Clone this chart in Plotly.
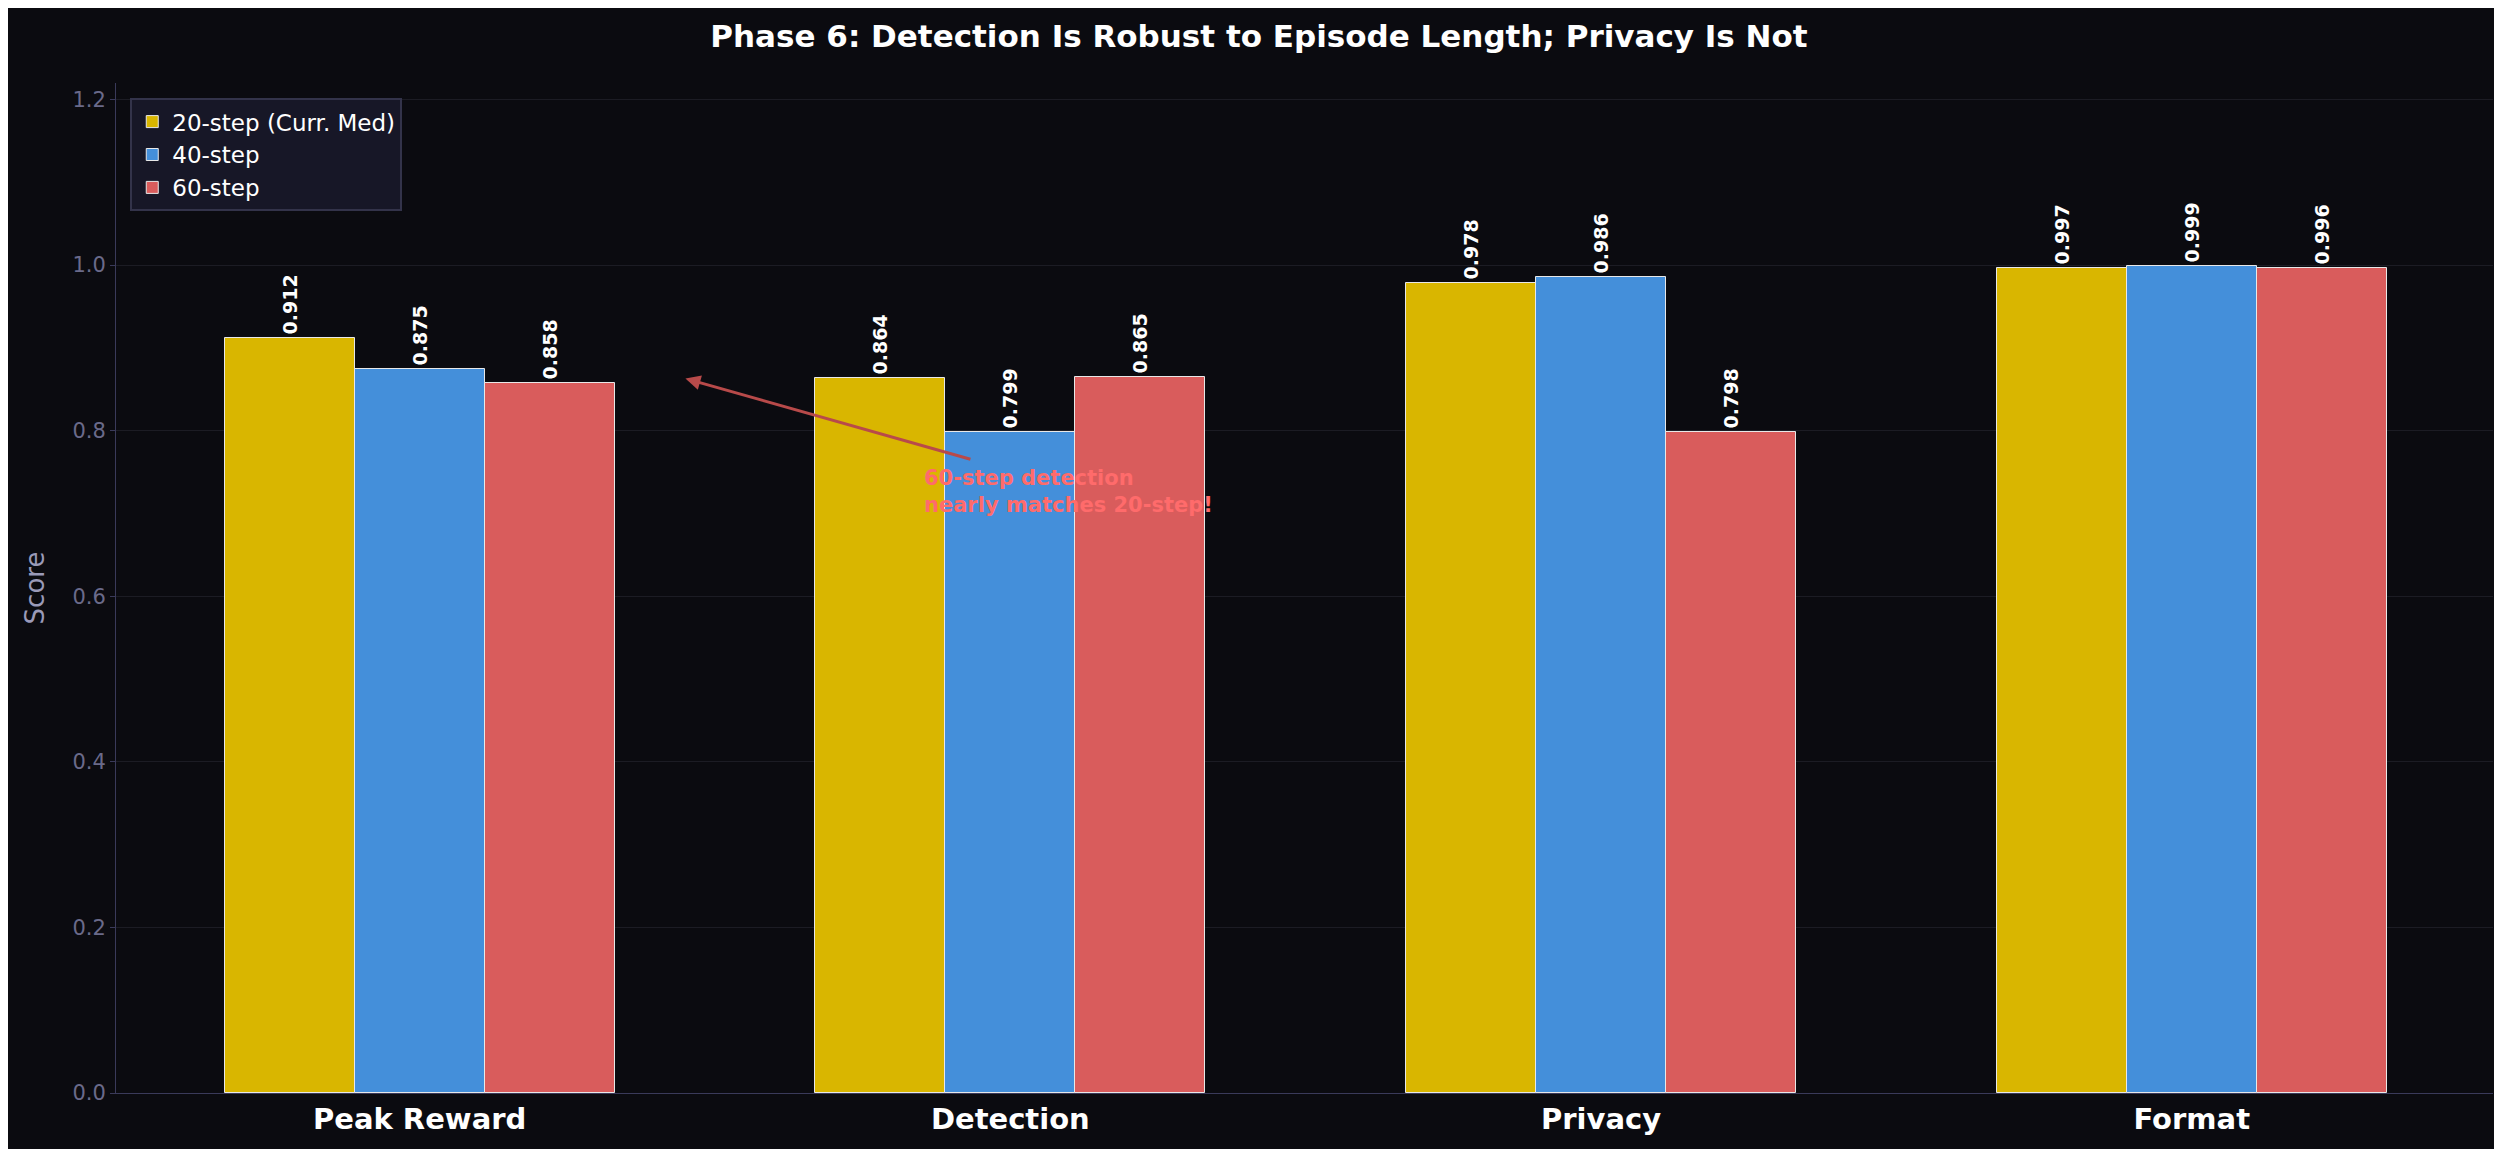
import plotly.graph_objects as go

categories = ["Peak Reward", "Detection", "Privacy", "Format"]
series_names = ["20-step (Curr. Med)", "40-step", "60-step"]
s20 = [0.912, 0.864, 0.978, 0.997]
s40 = [0.875, 0.799, 0.986, 0.999]
s60 = [0.858, 0.865, 0.798, 0.996]
colors = ["#d9b600", "#448fda", "#d95c5c"]

fig = go.Figure()
xs = list(range(len(categories)))
w = 0.22
for i, (name, vals) in enumerate(zip(series_names, [s20, s40, s60])):
    fig.add_trace(go.Bar(
        x=[x + (i - 1) * w for x in xs], y=vals, width=w, name=name,
        marker=dict(color=colors[i], line=dict(color="#e8e8e8", width=1)),
        text=[f"{v:.3f}" for v in vals], textposition="outside", textangle=-90,
        textfont=dict(color="white", size=19, family="DejaVu Sans", weight="bold"),
        cliponaxis=False,
    ))

fig.add_annotation(x=0.45, y=0.863, ax=0.935, ay=0.765, xref="x", yref="y", axref="x", ayref="y",
                   text="", showarrow=True, arrowhead=2, arrowsize=1, arrowwidth=3, arrowcolor="#b84a4a")
fig.add_annotation(x=0.85, y=0.76, xref="x", yref="y", xanchor="left", yanchor="top", align="left",
                   showarrow=False, text="60-step detection<br>nearly matches 20-step!",
                   font=dict(color="#ff6b6b", size=21, family="DejaVu Sans", weight="bold"))

fig.update_layout(
    width=2502, height=1149, paper_bgcolor="#0b0b10", plot_bgcolor="#0b0b10",
    margin=dict(l=108, r=17, t=75, b=64),
    title=dict(text="<b>Phase 6: Detection Is Robust to Episode Length; Privacy Is Not</b>",
               x=0.5, xanchor="center", y=0.985, yanchor="top",
               font=dict(color="white", size=31, family="DejaVu Sans")),
    bargap=0, barmode="overlay",
    legend=dict(x=0.006, y=0.985, xanchor="left", yanchor="top", bgcolor="#171727",
                bordercolor="#33334a", borderwidth=2, font=dict(color="white", size=23, family="DejaVu Sans")),
    xaxis=dict(tickvals=xs, ticktext=[f"<b>{c}</b>" for c in categories], range=[-0.514, 3.51],
               tickfont=dict(color="white", size=29, family="DejaVu Sans"), showgrid=False,
               showline=True, linecolor="#3a3a5a", zeroline=False),
    yaxis=dict(range=[0, 1.22], dtick=0.2, tickformat=".1f", gridcolor="#1c1c24",
               tickfont=dict(color="#6a6a8a", size=21, family="DejaVu Sans"),
               title=dict(text="Score", font=dict(color="#9a9ab8", size=26, family="DejaVu Sans"), standoff=20),
               showline=True, linecolor="#3a3a5a", zeroline=False, ticks="outside", tickcolor="#3a3a5a"),
)
fig.write_html("out.html")
